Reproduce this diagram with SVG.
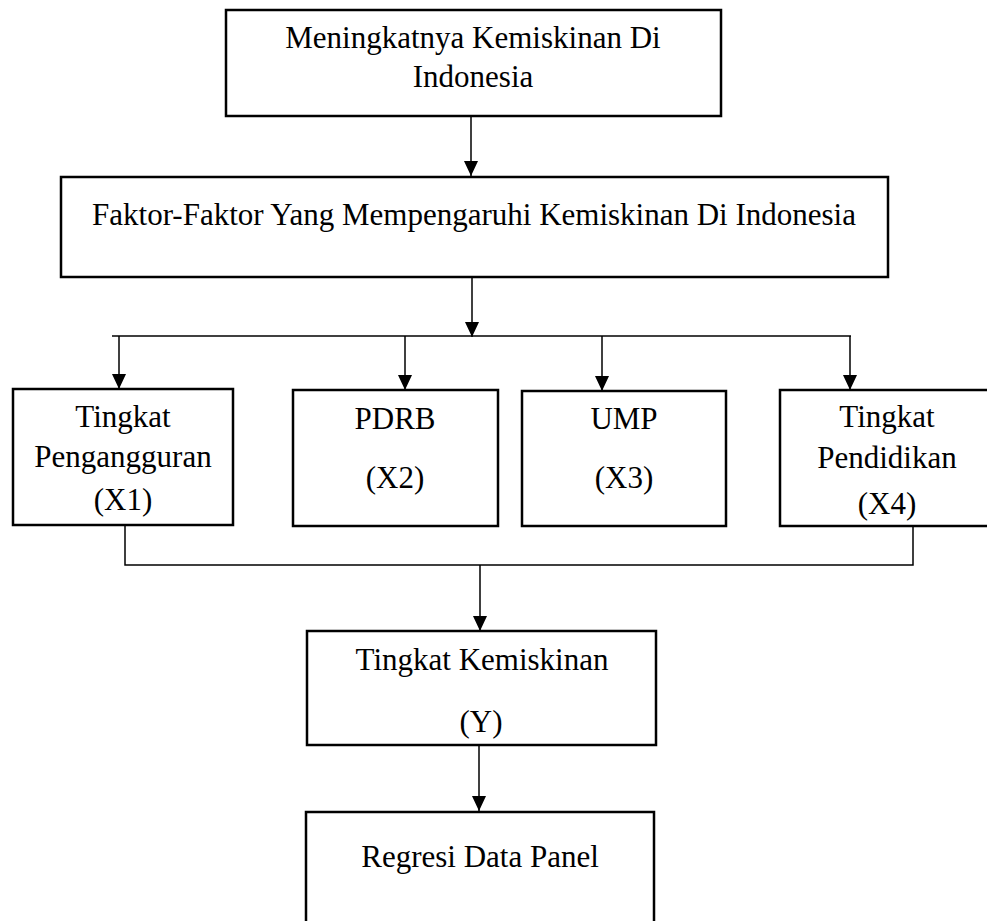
<svg xmlns="http://www.w3.org/2000/svg" width="987" height="921" viewBox="0 0 987 921">
<style>
.box{fill:#fff;stroke:#000;stroke-width:2.5}
.t{font-family:"Liberation Serif","Times New Roman",serif;font-size:31px;fill:#000;text-anchor:middle}
.c{fill:none;stroke:#000;stroke-width:1.5}
</style>
<defs>
<marker id="ah" markerUnits="userSpaceOnUse" markerWidth="16" markerHeight="16" refX="15" refY="7" orient="auto">
<path d="M0,0 L15,7 L0,14 Z" fill="#000"/>
</marker>
</defs>
<rect width="987" height="921" fill="#fff"/>
<g id="connectors">
<line class="c" x1="471" y1="116" x2="471" y2="176" marker-end="url(#ah)"/>
<line class="c" x1="472" y1="277" x2="472" y2="337" marker-end="url(#ah)"/>
<line class="c" x1="112" y1="336" x2="851" y2="336"/>
<line class="c" x1="119" y1="336" x2="119" y2="389" marker-end="url(#ah)"/>
<line class="c" x1="405" y1="336" x2="405" y2="390" marker-end="url(#ah)"/>
<line class="c" x1="602" y1="336" x2="602" y2="391" marker-end="url(#ah)"/>
<line class="c" x1="850" y1="336" x2="850" y2="390" marker-end="url(#ah)"/>
<polyline class="c" points="125,526 125,565 913,565 913,526"/>
<line class="c" x1="480" y1="565" x2="480" y2="631" marker-end="url(#ah)"/>
<line class="c" x1="479" y1="745" x2="479" y2="811" marker-end="url(#ah)"/>
</g>
<g id="n1">
<rect class="box" x="226" y="10" width="495" height="106"/>
<text class="t" x="473" y="48">Meningkatnya Kemiskinan Di</text>
<text class="t" x="473" y="87">Indonesia</text>
</g>
<g id="n2">
<rect class="box" x="61" y="177" width="827" height="100"/>
<text class="t" x="474" y="225">Faktor-Faktor Yang Mempengaruhi Kemiskinan Di Indonesia</text>
</g>
<g id="x1">
<rect class="box" x="13" y="389" width="220" height="136"/>
<text class="t" x="123" y="427">Tingkat</text>
<text class="t" x="123" y="467">Pengangguran</text>
<text class="t" x="123" y="510">(X1)</text>
</g>
<g id="x2">
<rect class="box" x="293" y="390" width="205" height="136"/>
<text class="t" x="395" y="429">PDRB</text>
<text class="t" x="395" y="488">(X2)</text>
</g>
<g id="x3">
<rect class="box" x="522" y="391" width="204" height="135"/>
<text class="t" x="624" y="429">UMP</text>
<text class="t" x="624" y="488">(X3)</text>
</g>
<g id="x4">
<rect class="box" x="780" y="390" width="215" height="136"/>
<text class="t" x="887" y="427">Tingkat</text>
<text class="t" x="887" y="468">Pendidikan</text>
<text class="t" x="887" y="514">(X4)</text>
</g>
<g id="y">
<rect class="box" x="307" y="631" width="349" height="114"/>
<text class="t" x="482" y="670">Tingkat Kemiskinan</text>
<text class="t" x="481" y="732">(Y)</text>
</g>
<g id="reg">
<rect class="box" x="306" y="812" width="348" height="120"/>
<text class="t" x="480" y="867">Regresi Data Panel</text>
</g>
</svg>
